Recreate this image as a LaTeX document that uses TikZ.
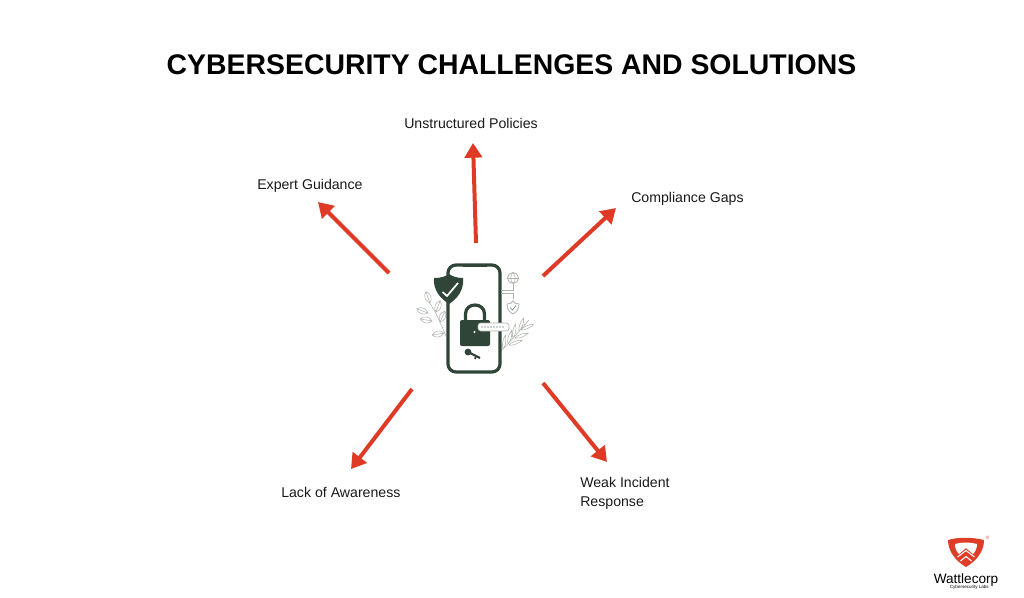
\documentclass[tikz,border=0pt]{standalone}
\usepackage{fontspec}
\setmainfont{Liberation Sans}
\usetikzlibrary{arrows.meta}
\definecolor{arrowRed}{RGB}{222, 58, 38}
\definecolor{phoneGreen}{RGB}{47, 69, 56}
\definecolor{leafGray}{RGB}{172, 178, 172}
\definecolor{logoRed}{RGB}{222, 62, 40}
\tikzset{
  spoke/.style={draw=arrowRed, line width=3pt, -{Triangle[length=11pt, width=13pt]}},
  label/.style={anchor=west, inner sep=0pt, font=\fontsize{10.6}{14}\selectfont, text=black!90},
  thinline/.style={draw=leafGray, line width=0.4pt},
  leafline/.style={draw=leafGray, line width=0.4pt, fill=white}
}
\begin{document}
\begin{tikzpicture}[x=0.75pt, y=-0.75pt]
  \useasboundingbox (0,0) rectangle (1024,597);

  \node[font=\bfseries\fontsize{21.3}{24}\selectfont, inner sep=0pt] (title) at (511.5,65) {CYBERSECURITY CHALLENGES AND SOLUTIONS};

  \coordinate (topA) at (476,243);
  \coordinate (topB) at (473,143);
  \coordinate (leftA) at (389,273);
  \coordinate (leftB) at (318,202);
  \coordinate (rightA) at (543,276);
  \coordinate (rightB) at (616,208);
  \coordinate (lowleftA) at (412,389);
  \coordinate (lowleftB) at (351,469);
  \coordinate (lowrightA) at (543,383);
  \coordinate (lowrightB) at (607,462);

  \draw[spoke] (topA) -- (topB);
  \draw[spoke] (leftA) -- (leftB);
  \draw[spoke] (rightA) -- (rightB);
  \draw[spoke] (lowleftA) -- (lowleftB);
  \draw[spoke] (lowrightA) -- (lowrightB);

  \node[label] (policies) at (404,123.5) {Unstructured Policies};
  \node[label] (guidance) at (257,186) {Expert Guidance};
  \node[label] (gaps) at (631,199) {Compliance Gaps};
  \node[label] (awareness) at (281,492.5) {Lack of Awareness};
  \node[label] (incident) at (580,482.5) {Weak Incident};
  \node[label] (response) at (580,503) {Response};

  % sprigs behind the phone
  \draw[thinline] (446,336) .. controls (440,322) and (436,312) .. (429,302);
  \foreach \x/\y/\a in {430/303/110, 436/312/70, 428/313/160, 440/322/65, 432/321/170, 444/333/190} {
    \draw[leafline, shift={(\x,\y)}, rotate=\a] (0,0) .. controls (3,-4) and (9,-4) .. (12,0) .. controls (9,4) and (3,4) .. (0,0) -- (12,0);
  }
  \draw[thinline] (501,351) .. controls (512,340) and (520,330) .. (529,320);
  \foreach \x/\y/\a in {503/349/80, 508/344/75, 513/338/80, 519/331/70, 509/345/20, 515/338/20, 521/330/25} {
    \draw[leafline, shift={(\x,\y)}, rotate=\a] (0,0) .. controls (3,-2) and (10,-2) .. (14,0) .. controls (10,2) and (3,2) .. (0,0);
  }

  % phone
  \draw[draw=phoneGreen, line width=2.4pt, rounded corners=6pt, fill=white] (448,265) rectangle (500,372);
  \draw[draw=phoneGreen, line width=1.5pt] (463,266) -- (487,266);

  % shield
  \fill[phoneGreen] (434,278) .. controls (442,278) and (446,276) .. (449,274) .. controls (452,276) and (456,278) .. (463,278)
    .. controls (464,290) and (458,298) .. (449,304) .. controls (440,298) and (433,290) .. (434,278) -- cycle;
  \draw[draw=white, line width=1.3pt] (442.5,292) -- (447,296) -- (458,283);

  % lock
  \draw[draw=phoneGreen, line width=2.4pt] (465.5,322) -- (465.5,314) .. controls (465.5,302) and (484.5,302) .. (484.5,314) -- (484.5,322);
  \fill[phoneGreen, rounded corners=1.5pt] (460,320) rectangle (490,346);
  \fill[white] (474.5,332) circle (1.2);
  \draw[draw=leafGray, fill=white, line width=0.5pt, rounded corners=2pt] (478,323) rectangle (509,331);
  \foreach \x in {482,485,...,503} {
    \fill[phoneGreen] (\x,327) circle (0.7);
  }

  % key
  \fill[phoneGreen] (468,352) circle (3.4);
  \draw[draw=phoneGreen, line width=1.6pt] (468,352) -- (480,358);
  \draw[draw=phoneGreen, line width=1.2pt] (476,356) -- (475,359);

  % globe and small shield
  \draw[thinline, line width=0.6pt] (513,278) circle (5.5);
  \draw[thinline] (507.5,278) -- (518.5,278);
  \draw[thinline] (513,272.5) .. controls (510,275) and (510,281) .. (513,283.5) .. controls (516,281) and (516,275) .. (513,272.5);
  \draw[thinline] (513,284) -- (513,290) -- (501,290);
  \draw[thinline] (501,293) -- (513,293) -- (513,299);
  \draw[thinline, line width=0.6pt] (507,304) .. controls (510,304) and (512,303) .. (513,301) .. controls (514,303) and (516,304) .. (519,304)
    .. controls (519,309) and (517,312) .. (513,314) .. controls (509,312) and (507,309) .. (507,304) -- cycle;
  \draw[draw=phoneGreen!70, line width=0.5pt] (510,307.5) -- (512.5,310) -- (516,305.5);

  % logo
  \fill[logoRed] (948,540) .. controls (958,537) and (972,537) .. (984,540) .. controls (984,550) and (978,560) .. (966,567) .. controls (954,560) and (948,550) .. (948,540) -- cycle;
  \fill[white] (955,544) .. controls (962,542) and (970,542) .. (977,544) .. controls (977,549) and (975,552) .. (973,554) -- (966,548) -- (959,554) .. controls (957,552) and (955,549) .. (955,544) -- cycle;
  \draw[draw=white, line width=0.8pt] (957.5,557) -- (966,550.5) -- (974.5,557);
  \draw[draw=white, line width=0.8pt] (960.5,561) -- (966,556.5) -- (971.5,561);
  \node[font=\fontsize{3.5}{4}\selectfont, text=logoRed, inner sep=0pt] (regmark) at (987.5,537.5) {®};
  \node[font=\fontsize{10.2}{12}\selectfont, inner sep=0pt] (brand) at (966,580) {Wattlecorp};
  \node[font=\fontsize{3.4}{4}\selectfont, anchor=east, inner sep=0pt] (tagline) at (989,587.5) {Cybersecurity Labs};
\end{tikzpicture}
\end{document}
